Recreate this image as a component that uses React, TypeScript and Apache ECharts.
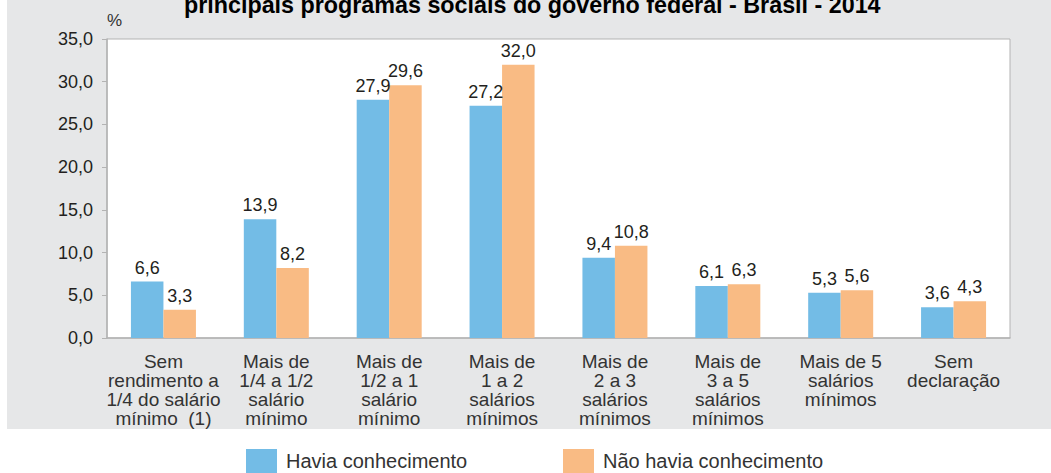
import React, { useEffect, useRef } from "react";
import * as echarts from "echarts";

const titleText = "principais programas sociais do governo federal - Brasil - 2014";
const categories = [
  "Sem\nrendimento a\n1/4 do salário\nmínimo  (1)",
  "Mais de\n1/4 a 1/2\nsalário\nmínimo",
  "Mais de\n1/2 a 1\nsalário\nmínimo",
  "Mais de\n1 a 2\nsalários\nmínimos",
  "Mais de\n2 a 3\nsalários\nmínimos",
  "Mais de\n3 a 5\nsalários\nmínimos",
  "Mais de 5\nsalários\nmínimos",
  "Sem\ndeclaração",
];
const seriesNames = ["Havia conhecimento", "Não havia conhecimento"];
const havia = [6.6, 13.9, 27.9, 27.2, 9.4, 6.1, 5.3, 3.6];
const naoHavia = [3.3, 8.2, 29.6, 32.0, 10.8, 6.3, 5.6, 4.3];

const FONT = "'Liberation Sans', Arial, sans-serif";
const fmt = (v: number) => v.toFixed(1).replace(".", ",");

export default function App() {
  const ref = useRef<HTMLDivElement>(null);
  useEffect(() => {
    if (!ref.current) return;
    const chart = echarts.init(ref.current, undefined, { renderer: "svg" });
    const labelCfg = {
      show: true,
      position: "top" as const,
      distance: 5,
      fontSize: 18,
      color: "#231f20",
      fontFamily: FONT,
      formatter: (p: any) => fmt(p.value),
    };
    chart.setOption({
      animation: false,
      backgroundColor: "#ffffff",
      textStyle: { fontFamily: FONT },
      title: {
        text: titleText,
        left: 184,
        top: -7,
        padding: 0,
        textStyle: { fontSize: 23.3, fontWeight: "bold", color: "#000", fontFamily: FONT },
      },
      graphic: {
        elements: [
          {
            type: "rect",
            z: -100,
            silent: true,
            shape: { x: 7, y: 0, width: 1044, height: 429 },
            style: { fill: "#e6e7e8" },
          },
        ],
      },
      legend: [
        {
          data: [seriesNames[0]],
          left: 246,
          top: 449,
          padding: 0,
          itemWidth: 31,
          itemHeight: 24,
          icon: "rect",
          textStyle: { fontSize: 20, color: "#333", fontFamily: FONT, padding: [0, 0, 0, 4] },
        },
        {
          data: [seriesNames[1]],
          left: 563,
          top: 449,
          padding: 0,
          itemWidth: 31,
          itemHeight: 24,
          icon: "rect",
          textStyle: { fontSize: 20, color: "#333", fontFamily: FONT, padding: [0, 0, 0, 4] },
        },
      ],
      grid: {
        left: 107,
        right: 41,
        top: 39,
        bottom: 135,
        show: true,
        backgroundColor: "#ffffff",
        borderColor: "#b3b3b3",
        borderWidth: 1,
      },
      xAxis: {
        type: "category",
        data: categories,
        axisLine: { show: true, lineStyle: { color: "#b3b3b3", width: 1.5 } },
        axisTick: { show: false },
        axisLabel: {
          interval: 0,
          margin: 14,
          fontSize: 19,
          lineHeight: 19,
          color: "#333",
          fontFamily: FONT,
        },
      },
      yAxis: {
        type: "value",
        min: 0,
        max: 35,
        interval: 5,
        name: "%",
        nameLocation: "end",
        nameGap: 10,
        nameTextStyle: { fontSize: 17, color: "#333", align: "left", padding: [0, 0, 0, 0], fontFamily: FONT },
        axisLine: { show: true, lineStyle: { color: "#b3b3b3", width: 1.5 } },
        axisTick: { show: true, length: 5, lineStyle: { color: "#b3b3b3" } },
        splitLine: { show: false },
        axisLabel: {
          margin: 14,
          fontSize: 18,
          color: "#231f20",
          fontFamily: FONT,
          formatter: (v: number) => fmt(v),
        },
      },
      series: [
        {
          name: seriesNames[0],
          type: "bar",
          data: havia,
          barWidth: 32.5,
          barGap: "0%",
          itemStyle: { color: "#73bce6" },
          label: labelCfg,
        },
        {
          name: seriesNames[1],
          type: "bar",
          data: naoHavia,
          barWidth: 32.5,
          barGap: "0%",
          itemStyle: { color: "#f9bb84" },
          label: labelCfg,
        },
      ],
    });
    return () => chart.dispose();
  }, []);
  return (
    <div
      ref={ref}
      style={{ position: "fixed", left: 0, top: 0, width: 1051, height: 473 }}
    />
  );
}
